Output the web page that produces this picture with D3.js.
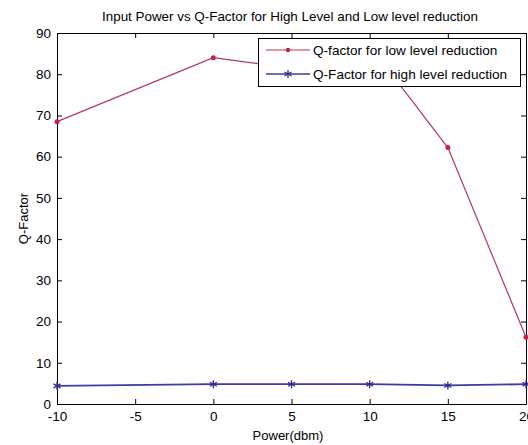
<!DOCTYPE html>
<html><head><meta charset="utf-8">
<script src="https://cdn.jsdelivr.net/npm/d3@7"></script>
<style>body{margin:0;background:#fff}svg{display:block}text{font-family:"Liberation Sans",Arial,sans-serif}</style>
</head><body>
<script>
const power = [-10, 0, 5, 10, 15, 20];
const lowLevel = [68.5, 84, 81.5, 87, 62.2, 16.2];
const highLevel = [4.4, 4.8, 4.8, 4.8, 4.5, 4.8];
const xTicks = [-10, -5, 0, 5, 10, 15, 20];
const yTicks = [0, 10, 20, 30, 40, 50, 60, 70, 80, 90];
const seriesNames = ["Q-factor for low level reduction", "Q-Factor for high level reduction"];
const title = "Input Power vs Q-Factor for High Level and Low level reduction";

const W = 528, H = 445;
const m = {l: 57, r: 2, t: 33, b: 41};
const svg = d3.select("body").append("svg").attr("width", W).attr("height", H);
const x = d3.scaleLinear().domain([-10, 20]).range([m.l, W - m.r]);
const y = d3.scaleLinear().domain([0, 90]).range([H - m.b, m.t]);

const tk = 5;
const fmt = d => String(d);
svg.append("g").attr("transform", `translate(0,${y(0)})`)
  .call(d3.axisBottom(x).tickValues(xTicks).tickFormat(fmt).tickSizeInner(-tk).tickSizeOuter(0).tickPadding(7))
  .call(g => g.selectAll("text").attr("font-size", 13.5).attr("fill", "#000"));
svg.append("g").attr("transform", `translate(0,${y(90)})`)
  .call(d3.axisTop(x).tickValues(xTicks).tickSizeInner(-tk).tickSizeOuter(0).tickFormat(""));
svg.append("g").attr("transform", `translate(${x(-10)},0)`)
  .call(d3.axisLeft(y).tickValues(yTicks).tickFormat(fmt).tickSizeInner(-tk).tickSizeOuter(0).tickPadding(6))
  .call(g => g.selectAll("text").attr("font-size", 13.5).attr("fill", "#000"));
svg.append("g").attr("transform", `translate(${x(20)},0)`)
  .call(d3.axisRight(y).tickValues(yTicks).tickSizeInner(-tk).tickSizeOuter(0).tickFormat(""));
svg.selectAll(".domain").attr("stroke", "#000");
svg.selectAll(".tick line").attr("stroke", "#000");

const red = "#b23a55", blue = "#3a3aa8";
const line = d3.line().x((d, i) => x(power[i])).y(d => y(d));

svg.append("path").datum(lowLevel).attr("d", line).attr("fill", "none").attr("stroke", red).attr("stroke-width", 1.2);
svg.selectAll(".rdot").data(lowLevel).enter().append("circle")
  .attr("cx", (d, i) => x(power[i])).attr("cy", d => y(d)).attr("r", 2.5).attr("fill", "#c8203f");

svg.append("path").datum(highLevel).attr("d", line).attr("fill", "none").attr("stroke", blue).attr("stroke-width", 1.8);
function asterisk(g, cx, cy) {
  const s = 4;
  [[0, -s, 0, s], [-s * 0.87, -s * 0.5, s * 0.87, s * 0.5], [-s * 0.87, s * 0.5, s * 0.87, -s * 0.5]].forEach(p => {
    g.append("line").attr("x1", cx + p[0]).attr("y1", cy + p[1]).attr("x2", cx + p[2]).attr("y2", cy + p[3])
      .attr("stroke", "#2a2a90").attr("stroke-width", 1.3);
  });
}
const sg = svg.append("g");
highLevel.forEach((d, i) => asterisk(sg, x(power[i]), y(d)));

const lg = svg.append("g");
lg.append("rect").attr("x", 258.5).attr("y", 38.5).attr("width", 262).attr("height", 48)
  .attr("fill", "#fff").attr("stroke", "#000").attr("stroke-width", 1);
const rows = [{c: red, t: seriesNames[0], y: 50}, {c: blue, t: seriesNames[1], y: 74}];
rows.forEach((r, i) => {
  lg.append("line").attr("x1", 266).attr("x2", 310).attr("y1", r.y).attr("y2", r.y).attr("stroke", r.c).attr("stroke-width", i ? 1.5 : 1.2);
  if (i === 0) lg.append("circle").attr("cx", 288).attr("cy", r.y).attr("r", 2.2).attr("fill", "#c8203f");
  else asterisk(lg, 288, r.y);
  lg.append("text").attr("x", 313).attr("y", r.y + 5).attr("font-size", 13.6).text(r.t);
});

svg.append("text").attr("x", 290).attr("y", 21).attr("text-anchor", "middle").attr("font-size", 13.4).text(title);
svg.append("text").attr("x", 288).attr("y", 440).attr("text-anchor", "middle").attr("font-size", 13).text("Power(dbm)");
svg.append("text").attr("transform", `translate(28,${(m.t + H - m.b) / 2}) rotate(-90)`)
  .attr("text-anchor", "middle").attr("font-size", 13).text("Q-Factor");
</script>
</body></html>
